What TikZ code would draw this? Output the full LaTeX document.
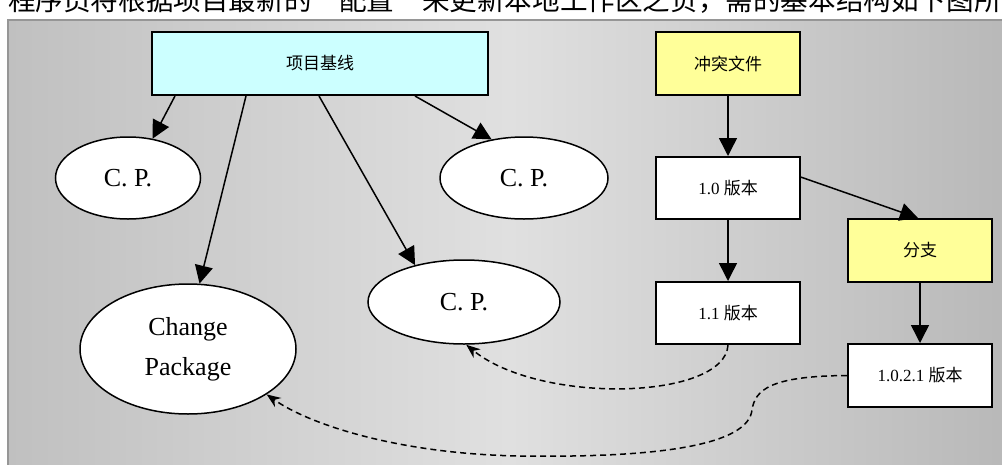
\documentclass[tikz,border=0pt]{standalone}
\usepackage{fontspec}
\setmainfont{Liberation Serif}
\newfontfamily\cjk{Noto Sans CJK SC}
\usetikzlibrary{arrows.meta,calc,shapes.geometric}
\definecolor{bgleft}{RGB}{192,192,192}
\definecolor{bgmid}{RGB}{224,224,224}
\definecolor{bgright}{RGB}{184,184,184}
\definecolor{framegray}{RGB}{150,150,150}
\definecolor{basecyan}{RGB}{204,255,255}
\definecolor{noteyellow}{RGB}{255,255,153}
\begin{document}
\begin{tikzpicture}[x=1pt,y=-1pt,
  box/.style={draw=black, line width=2pt, minimum width=144pt, minimum height=62pt, inner sep=0pt, font=\fontsize{17}{20}\selectfont},
  oval/.style={ellipse, draw=black, line width=1.5pt, fill=white, inner sep=0pt, font=\fontsize{26}{30}\selectfont},
  arr/.style={line width=1.5pt, -{Triangle[length=18pt,width=18pt]}},
  darr/.style={line width=1.5pt, dash pattern=on 6pt off 4pt, -{Stealth[length=14pt,width=11pt]}}]
\useasboundingbox (0,0) rectangle (1002,464);
\clip (0,0) rectangle (1002,464);
\fill[white] (0,0) rectangle (1002,464);
% top clipped text line
\node[anchor=base west, inner sep=0pt, font=\cjk\fontsize{27.6}{30}\selectfont] (title) at (8,10) {程序员将根据项目最新的“配置”来更新本地工作区之负，需的基本结构如下图所示};
% background
\shade[left color=bgleft, right color=bgright, middle color=bgmid] (8,20) rectangle (1010,470);
\draw[framegray, line width=2pt] (8,470) -- (8,20) -- (1010,20);
% boxes
\node[box, fill=basecyan, minimum width=336pt, minimum height=63pt] (base) at (320,63.5) {\cjk 项目基线};
\node[box, fill=noteyellow, minimum height=63pt] (conflict) at (728,63.5) {\cjk 冲突文件};
\node[box, fill=white] (v10) at (728,188) {1.0 {\cjk 版本}};
\node[box, fill=white] (v11) at (728,313) {1.1 {\cjk 版本}};
\node[box, fill=noteyellow, minimum height=63pt] (branch) at (920,250.5) {\cjk 分支};
\node[box, fill=white, minimum height=63pt] (v1021) at (920,375.5) {1.0.2.1 {\cjk 版本}};
% ellipses
\node[oval, minimum width=145pt, minimum height=82pt] (cp1) at (128,178) {C. P.};
\node[oval, minimum width=168pt, minimum height=82pt] (cpr) at (524,178) {C. P.};
\node[oval, minimum width=192pt, minimum height=84pt] (cpm) at (464,302) {C. P.};
\node[oval, minimum width=216pt, minimum height=130pt, align=center, font=\fontsize{26}{40}\selectfont] (chg) at (188,349) {Change\\Package};
% solid arrows
\draw[arr] ($(base.south west)+(24,0)$) -- (cp1.58);
\draw[arr] ($(base.south west)+(95,0)$) -- (chg.80);
\draw[arr] ($(base.south west)+(168,0)$) -- (cpm.143);
\draw[arr] ($(base.south west)+(264,0)$) -- (cpr.130);
\draw[arr] (conflict.south) -- (v10.north);
\draw[arr] (v10.south) -- (v11.north);
\draw[arr] ($(v10.north east)!0.33!(v10.south east)$) -- ($(branch.north)+(-2,0)$);
\draw[arr] (branch.south) -- (v1021.north);
% dashed arrows
\draw[darr] (v11.south) .. controls (725,400) and (540,405) .. (cpm.-87);
\draw[darr] (v1021.west) .. controls (770,376) and (755,390) .. (752,410)
  .. controls (748,445) and (660,458) .. (520,456)
  .. controls (400,454) and (310,425) .. (chg.-30);
\end{tikzpicture}
\end{document}
